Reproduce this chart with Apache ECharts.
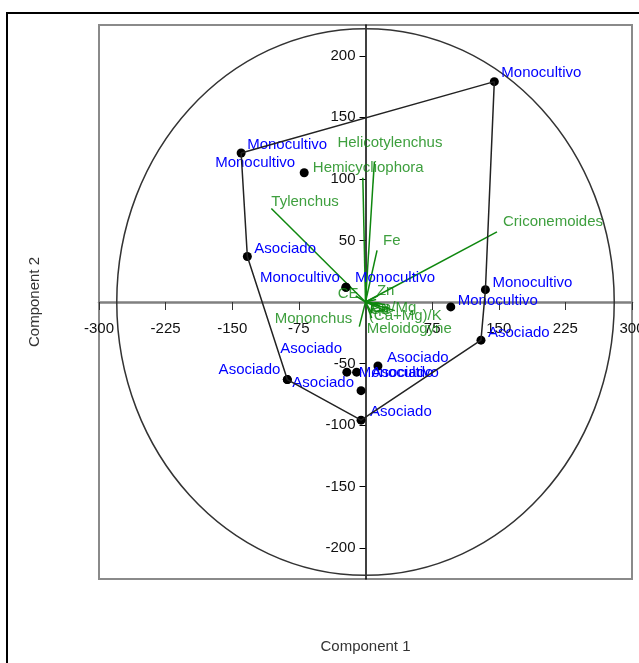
<!DOCTYPE html>
<html>
<head>
<meta charset="utf-8">
<script src="https://cdn.jsdelivr.net/npm/echarts@6/dist/echarts.min.js"></script>
<style>
  html, body { margin: 0; padding: 0; background: #fff; }
  #chart { width: 639px; height: 663px; }
</style>
</head>
<body>
<div id="chart"></div>
<script>
// sitios: componente 1 / componente 2
const siteNames = ["Monocultivo", "Monocultivo", "Monocultivo", "Asociado", "Monocultivo", "Monocultivo",
  "Monocultivo", "Monocultivo", "Asociado", "Asociado", "Asociado", "Monocultivo", "Asociado",
  "Asociado", "Asociado", "Asociado"];
const siteX = [145, -140, -69, -133, -22, -22, 135, 96, 130, -88, -88, -21, -10, 14, -5, -5];
const siteY = [179, 121, 105, 37, 12, 12, 10, -4, -31, -63, -63, -57, -57, -52, -72, -96];

// variables (vectores)
const varNames = ["Helicotylenchus", "Hemicycliophora", "Tylenchus", "Fe", "Criconemoides", "CE",
  "Zn", "Ca/Mg", "(Ca+Mg)/K", "Meloidogyne", "Mononchus", "Ca", "K", "P", "Cu"];
const varX = [10, -3, -106, 13, 148, -11, 14, 22, 33, 7, -7, 16, 22, 7, 12];
const varY = [114, 101, 76, 42, 57, 5, 5, -2, -7, -13, -20, -3, -7, -9, 2];

const xTicks = [-300, -225, -150, -75, 75, 150, 225, 300];
const yTicks = [-200, -150, -100, -50, 50, 100, 150, 200];
const circleR = [280, 222];

// label placement (side, dx, dy)
const siteLabelPos = [
  ["right", 2.5, -9], ["right", 1.5, -8], ["left", -4.5, -10], ["right", 2.5, -8],
  ["right", 4.5, -9], ["left", -1.5, -9], ["right", 2.5, -7], ["right", 2.5, -6],
  ["right", 2.5, -7], ["left", -2.5, -10], ["right", 0.5, 3], ["right", 7.5, 1],
  ["right", 10.5, 1], ["right", 4.5, -8], ["left", -14.5, -42], ["right", 4.5, -8]
];
const varLabelPos = [
  ["right", -37.5, -19], ["right", -50.5, -10], ["right", -0.5, -7], ["right", 5.5, -9],
  ["right", 5.5, -10], ["right", -18.5, -2], ["right", -1.5, -5], ["right", -13.5, 3],
  ["right", -26.5, 5], ["right", -5.5, 11], ["left", -6.5, -8], ["right", -10.5, 4],
  ["right", -7.5, 1], ["right", -2.5, -4], ["right", -6.5, 8]
];

const FONT = "'Liberation Sans', Arial, sans-serif";
const BLUE = "#0000ff";
const GREEN = "#0e870e";

// grid box, axes cross at (0,0) in the middle of it
const G = { left: 99, right: 7, top: 25, bottom: 84 };
const plotW = 639 - G.left - G.right;
const plotH = 663 - G.top - G.bottom;

function convexHull(pts) {
  const p = pts.slice().sort((a, b) => a[0] - b[0] || a[1] - b[1]);
  const cross = (o, a, b) => (a[0] - o[0]) * (b[1] - o[1]) - (a[1] - o[1]) * (b[0] - o[0]);
  const lower = [], upper = [];
  for (const q of p) {
    while (lower.length >= 2 && cross(lower[lower.length - 2], lower[lower.length - 1], q) <= 0) lower.pop();
    lower.push(q);
  }
  for (const q of p.slice().reverse()) {
    while (upper.length >= 2 && cross(upper[upper.length - 2], upper[upper.length - 1], q) <= 0) upper.pop();
    upper.push(q);
  }
  lower.pop(); upper.pop();
  const h = lower.concat(upper);
  h.push(h[0]);
  return h;
}

const sitePts = siteX.map((x, i) => [x, siteY[i]]);
const hull = convexHull(sitePts);

const chart = echarts.init(document.getElementById("chart"));
chart.setOption({
  animation: false,
  textStyle: { fontFamily: FONT },
  grid: {
    left: G.left, right: G.right, top: G.top, bottom: G.bottom, show: true,
    borderColor: "#8a8a8a", borderWidth: 2,
    containLabel: false, outerBoundsMode: "none"
  },
  graphic: [
    { type: "rect", shape: { x: 7, y: 13, width: 700, height: 700 }, style: { fill: "none", stroke: "#000", lineWidth: 2 }, z: 100 }
  ],
  xAxis: {
    type: "value", min: -300, max: 300, interval: 75,
    position: "bottom", offset: -plotH / 2,
    axisLine: { onZero: false, lineStyle: { color: "#808080", width: 2.5 } },
    axisTick: { customValues: xTicks, length: 8, lineStyle: { color: "#333", width: 1 } },
    axisLabel: { customValues: xTicks, margin: 19, color: "#111", fontSize: 15, fontFamily: FONT },
    splitLine: { show: false },
    name: "Component 1", nameLocation: "middle", nameGap: 337,
    nameTextStyle: { color: "#333", fontSize: 15, fontFamily: FONT }
  },
  yAxis: {
    type: "value", min: -225, max: 225,
    position: "left", offset: -plotW / 2,
    axisLine: { onZero: false, lineStyle: { color: "#000", width: 1.5 } },
    axisTick: { customValues: yTicks, length: 6, lineStyle: { color: "#000", width: 1 } },
    axisLabel: { customValues: yTicks, margin: 10, color: "#111", fontSize: 15, fontFamily: FONT },
    splitLine: { show: false },
    name: "Component 2", nameLocation: "middle", nameGap: 323,
    nameTextStyle: { color: "#333", fontSize: 15, fontFamily: FONT }
  },
  series: [
    {
      type: "custom",
      silent: true,
      clip: false,
      data: [[0, 0]],
      renderItem: function (params, api) {
        const c = api.coord([0, 0]);
        const s = api.size([circleR[0], circleR[1]]);
        return {
          type: "ellipse",
          shape: { cx: c[0], cy: c[1], rx: s[0], ry: s[1] },
          style: { fill: "none", stroke: "#333", lineWidth: 1.5 }
        };
      }
    },
    {
      type: "line",
      data: hull,
      symbol: "none",
      silent: true,
      lineStyle: { color: "#222", width: 1.5 }
    },
    {
      type: "lines",
      coordinateSystem: "cartesian2d",
      silent: true,
      data: varNames.map((n, i) => ({ coords: [[0, 0], [varX[i], varY[i]]] })),
      lineStyle: { color: GREEN, width: 1.5, opacity: 1 }
    },
    {
      type: "scatter",
      silent: true,
      symbolSize: 1,
      itemStyle: { color: "rgba(0,0,0,0)" },
      data: varNames.map((n, i) => ({
        value: [varX[i], varY[i]],
        name: n,
        label: { position: varLabelPos[i][0], offset: [varLabelPos[i][1], varLabelPos[i][2]] }
      })),
      label: { show: true, distance: 0, formatter: "{b}", color: GREEN, fontSize: 15, fontFamily: FONT }
    },
    {
      type: "scatter",
      silent: true,
      symbolSize: 9,
      itemStyle: { color: "#000", opacity: 1 },
      data: siteNames.map((n, i) => ({
        value: sitePts[i],
        name: n,
        label: { position: siteLabelPos[i][0], offset: [siteLabelPos[i][1], siteLabelPos[i][2]] }
      })),
      label: { show: true, distance: 0, formatter: "{b}", color: BLUE, fontSize: 15, fontFamily: FONT }
    }
  ]
});
</script>
</body>
</html>
